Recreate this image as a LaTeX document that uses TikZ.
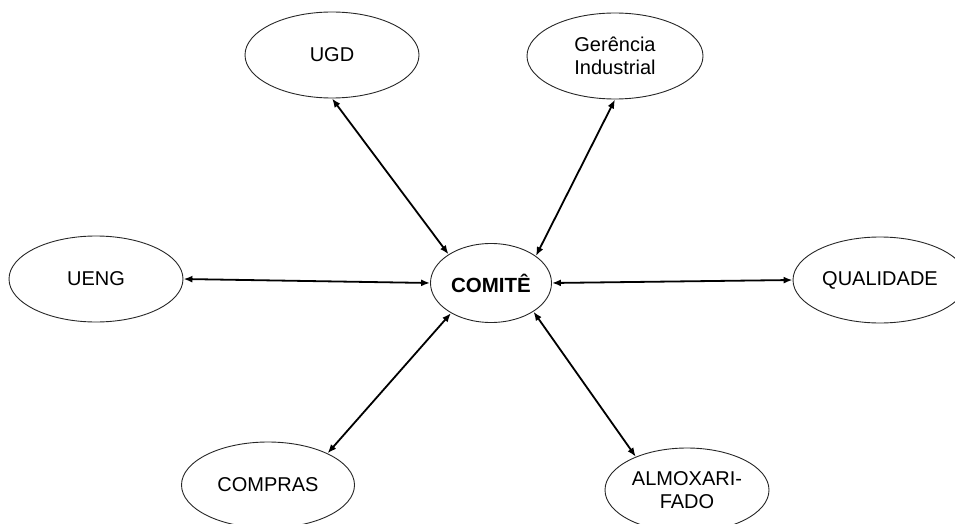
\documentclass[tikz,border=0pt]{standalone}
\usepackage{fontspec}
\setmainfont{Liberation Sans}
\usetikzlibrary{shapes.geometric,arrows.meta}
\begin{document}
\begin{tikzpicture}[x=1pt,y=-1pt,
  unit/.style={draw=black!85,line width=0.9pt,ellipse,inner sep=0pt,
    minimum width=174pt,minimum height=86pt,align=center,
    font=\fontsize{20}{23}\selectfont},
  link/.style={line width=1.8pt,{Latex[length=9pt,width=7pt]}-{Latex[length=9pt,width=7pt]}}]
\useasboundingbox (0,0) rectangle (955,524);
% committee at the centre
\node[unit,minimum width=121pt,minimum height=79pt,font=\fontsize{20.5}{24}\selectfont\bfseries] (comite) at (491,283) {COMITÊ};
% surrounding units
\node[unit] (ugd) at (332,55) {UGD};
\node[unit,minimum width=176pt] (ger) at (615,56) {Gerência\\Industrial};
\node[unit] (ueng) at (96,279) {UENG};
\node[unit] (qual) at (880,280) {QUALIDADE};
\node[unit,minimum width=173pt] (compras) at (268,485) {COMPRAS};
\node[unit,minimum width=164pt,minimum height=84pt] (almox) at (687,490) {ALMOXARI-\\FADO};
% two-way links to the committee
\draw[link] (ugd.south) -- (comite.146);
\draw[link] (ger.south) -- (comite.31);
\draw[link] (ueng.east) -- (comite.west);
\draw[link] (comite.east) -- (qual.west);
\draw[link] (compras.28) -- (comite.217);
\draw[link] (almox.147) -- (comite.-34);
\end{tikzpicture}
\end{document}
